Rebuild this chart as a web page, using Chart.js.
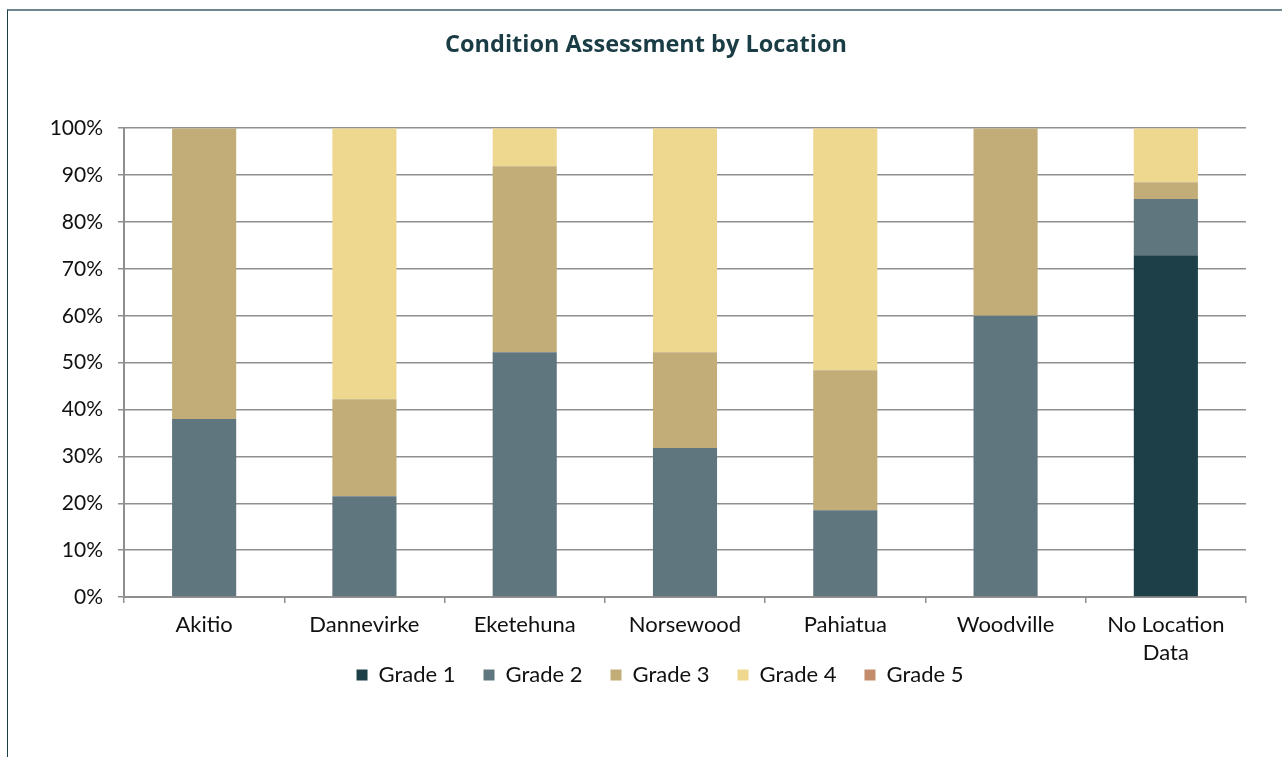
<!DOCTYPE html>
<html>
<head>
<meta charset="utf-8">
<script src="https://cdn.jsdelivr.net/npm/chart.js@4"></script>
<style>
  html, body { margin: 0; padding: 0; background: #fff; }
  #frame {
    position: absolute; left: 7px; top: 9px; right: 0; bottom: 0;
    border-top: 2px solid #6f878c;
    border-left: 1px solid #1e3f46;
  }
  #wrap { position: absolute; left: 0; top: 0; width: 1282px; height: 757px; }
</style>
</head>
<body>
<div id="frame"></div>
<div id="wrap"><canvas id="chart" width="1282" height="757"></canvas></div>
<script>
// ── Données ──────────────────────────────────────────────────────────────
var locations = ['Akitio', 'Dannevirke', 'Eketehuna', 'Norsewood', 'Pahiatua', 'Woodville', ['No Location', 'Data']];
var grade1 = [0, 0, 0, 0, 0, 0, 72.9];
var grade2 = [38, 21.5, 52.2, 31.8, 18.5, 60, 12.0];
var grade3 = [62, 20.7, 39.7, 20.4, 29.9, 40, 3.6];
var grade4 = [0, 57.8, 8.1, 47.8, 51.6, 0, 11.5];
var grade5 = [0, 0, 0, 0, 0, 0, 0];
var yTicks = [0, 10, 20, 30, 40, 50, 60, 70, 80, 90, 100];

var FONT = 'Lato, "Open Sans", sans-serif';
var GRID = '#8f8f8f';

function serie(label, data, color) {
    return {
        label: label,
        data: data,
        backgroundColor: color,
        borderWidth: 0,
        barPercentage: 0.4,
        categoryPercentage: 1
    };
}

// La légende remonte juste sous les libellés de l'axe X, comme dans l'original
var legendShift = {
    id: 'legendShift',
    afterLayout: function (chart) {
        var lg = chart.legend;
        var h = lg.height;
        lg.top = 636;
        lg.bottom = lg.top + h;
        lg.left += 14;
        lg.right += 14;
    }
};

new Chart(document.getElementById('chart').getContext('2d'), {
    type: 'bar',
    data: {
        labels: locations,
        datasets: [
            serie('Grade 1', grade1, '#1d3f47'),
            serie('Grade 2', grade2, '#60767f'),
            serie('Grade 3', grade3, '#c2ad78'),
            serie('Grade 4', grade4, '#eed78e'),
            serie('Grade 5', grade5, '#c38c6c')
        ]
    },
    plugins: [legendShift],
    options: {
        responsive: false,
        animation: false,
        devicePixelRatio: 1,
        layout: { padding: { left: 46, right: 36, top: 20, bottom: 22 } },
        plugins: {
            title: {
                display: true,
                text: 'Condition Assessment by Location',
                color: '#1a3c44',
                font: { family: '"Open Sans", sans-serif', size: 23.5, weight: 'bold', lineHeight: 1.2 },
                padding: { top: 11, bottom: 69 }
            },
            legend: {
                position: 'bottom',
                labels: {
                    color: '#111',
                    font: { family: FONT, size: 22 },
                    boxWidth: 11,
                    boxHeight: 11,
                    padding: 28
                }
            },
            tooltip: { enabled: false }
        },
        scales: {
            x: {
                stacked: true,
                grid: { display: true, drawOnChartArea: false, drawTicks: true, tickLength: 6, color: GRID, lineWidth: 1.5 },
                border: { display: true, color: GRID, width: 2 },
                ticks: { color: '#111', font: { family: FONT, size: 22, lineHeight: 1.27 }, maxRotation: 0, padding: 8 }
            },
            y: {
                stacked: true,
                min: 0,
                max: 100,
                afterBuildTicks: function (scale) {
                    scale.ticks = yTicks.map(function (v) { return { value: v }; });
                },
                afterFit: function (scale) { scale.width = 78; },
                grid: { color: GRID, lineWidth: 1.5, tickLength: 6 },
                border: { display: true, color: GRID, width: 2 },
                ticks: {
                    color: '#111',
                    font: { family: FONT, size: 21 },
                    padding: 15,
                    callback: function (v) { return v + '%'; }
                }
            }
        }
    }
});
</script>
</body>
</html>
